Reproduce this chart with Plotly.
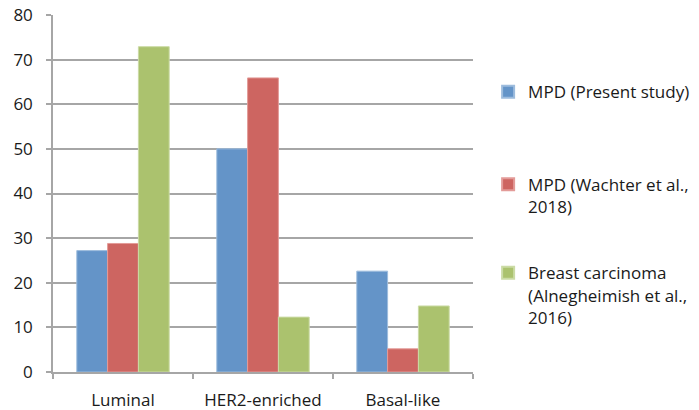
import plotly.graph_objects as go

categories = ["Luminal", "HER2-enriched", "Basal-like"]
present_study = [27.2, 50.0, 22.6]
wachter_2018 = [28.8, 65.9, 5.2]
alnegheimish_2016 = [72.9, 12.3, 14.8]

series_names = [
    "MPD (Present study)",
    "MPD (Wachter et al.,<br>2018)",
    "Breast carcinoma<br>(Alnegheimish et al.,<br>2016)",
]
colors = ["#6494C8", "#CD6561", "#ABC26E"]
edge_colors = ["#9DBCDD", "#E39B98", "#CBDBA5"]
values = [present_study, wachter_2018, alnegheimish_2016]
legends = ["legend", "legend2", "legend3"]
legend_y = [0.834, 0.575, 0.327]

FONT = "Open Sans, Carlito, Calibri, sans-serif"
FS = 17
GRID = "#A6A6A6"
TXT = "#1a1a1a"

fig = go.Figure()
for name, vals, c, ec, lg in zip(series_names, values, colors, edge_colors, legends):
    fig.add_trace(go.Bar(
        x=categories, y=vals, name=name,
        marker=dict(color=c, line=dict(color=ec, width=1)),
        legend=lg, showlegend=True,
    ))

legend_common = dict(
    x=1.036, xanchor="left", yanchor="top", valign="top",
    font=dict(family=FONT, size=FS, color=TXT),
    bgcolor="rgba(0,0,0,0)", borderwidth=0,
    itemsizing="constant", visible=True,
)

fig.update_layout(
    width=699, height=410,
    showlegend=True,
    margin=dict(l=53, r=226, t=15, b=38, autoexpand=False),
    paper_bgcolor="white", plot_bgcolor="white",
    barmode="group", bargap=0.34, bargroupgap=0,
    font=dict(family=FONT, size=FS, color=TXT),
    legend=dict(**legend_common, y=legend_y[0]),
    legend2=dict(**legend_common, y=legend_y[1]),
    legend3=dict(**legend_common, y=legend_y[2]),
    xaxis=dict(
        automargin=False,
        showline=True, linecolor=GRID, linewidth=1.5,
        ticks="outside", ticklen=5, tickcolor=GRID, tickwidth=1.5,
        tickson="boundaries", ticklabelstandoff=12,
        tickfont=dict(family=FONT, size=FS, color=TXT),
    ),
    yaxis=dict(
        automargin=False,
        range=[0, 80], dtick=10, tick0=0,
        showline=True, linecolor=GRID, linewidth=1.5,
        showgrid=True, gridcolor=GRID, gridwidth=1.5,
        ticks="outside", ticklen=5, tickcolor=GRID, tickwidth=1.5,
        ticklabelstandoff=10, zeroline=False,
        tickfont=dict(family=FONT, size=FS, color=TXT),
    ),
)

fig.write_html(
    "out.html",
    config={"displayModeBar": False},
    post_script="document.body.style.margin='0';",
)
